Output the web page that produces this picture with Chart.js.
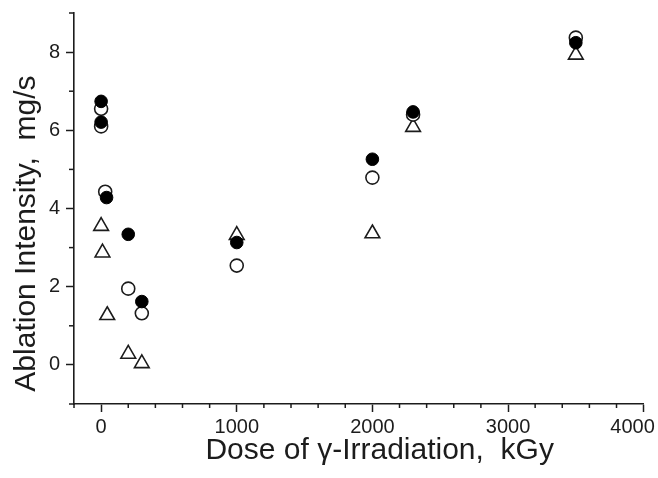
<!DOCTYPE html>
<html><head><meta charset="utf-8">
<script src="https://cdn.jsdelivr.net/npm/chart.js@4.4.1/dist/chart.umd.min.js"></script>
<style>html,body{margin:0;padding:0;overflow:hidden;background:#fff}</style>
</head><body>
<canvas id="c" width="680" height="478" style="width:680px;height:478px;display:block"></canvas>
<script>
// Filled circles
const filledDose = [0, 0, 40, 200, 300, 1000, 2000, 2300, 3500];
const filledVal  = [6.74, 6.21, 4.28, 3.34, 1.62, 3.13, 5.26, 6.47, 8.24];
// Open circles
const openDose = [0, 0, 30, 200, 300, 1000, 2000, 2300, 3500];
const openVal  = [6.55, 6.10, 4.43, 1.95, 1.32, 2.54, 4.79, 6.40, 8.37];
// Open triangles
const triDose = [0, 10, 45, 200, 300, 1000, 2000, 2300, 3500];
const triVal  = [3.55, 2.87, 1.27, 0.28, 0.04, 3.32, 3.36, 6.08, 7.93];

const xTickLabels = [0, 1000, 2000, 3000, 4000];
const yTickLabels = [0, 2, 4, 6, 8];
const xTitle = 'Dose of \u03B3-Irradiation,  kGy';
const yTitle = 'Ablation Intensity,  mg/s';

const pts = (xs, ys) => xs.map((x, i) => ({x: x, y: ys[i]}));
const INK = '#1c1c1c';
const FAMILY = 'Liberation Sans, Arial, sans-serif';

const minorTicks = {
  id: 'minorTicks',
  afterDraw(chart) {
    const ctx = chart.ctx;
    ctx.save();
    ctx.strokeStyle = INK;
    ctx.lineWidth = 1.5;
    const xs = chart.scales.x, ys = chart.scales.y;
    xs.ticks.forEach(t => {
      if (xTickLabels.includes(t.value)) return;
      const p = xs.getPixelForValue(t.value);
      ctx.beginPath(); ctx.moveTo(p, xs.top); ctx.lineTo(p, xs.top + 4); ctx.stroke();
    });
    ys.ticks.forEach(t => {
      if (yTickLabels.includes(t.value)) return;
      const p = ys.getPixelForValue(t.value);
      ctx.beginPath(); ctx.moveTo(ys.right, p); ctx.lineTo(ys.right - 5, p); ctx.stroke();
    });
    ctx.restore();
  }
};

new Chart(document.getElementById('c'), {
  type: 'scatter',
  data: {
    datasets: [
      { label: 'filled', data: pts(filledDose, filledVal), pointStyle: 'circle', pointRadius: 6.3,
        backgroundColor: '#000', borderColor: '#000', borderWidth: 1 },
      { label: 'open', data: pts(openDose, openVal), pointStyle: 'circle', pointRadius: 6.5,
        backgroundColor: '#fff', borderColor: INK, borderWidth: 1.6 },
      { label: 'triangle', data: pts(triDose, triVal), pointStyle: 'triangle', pointRadius: 8.5,
        backgroundColor: '#fff', borderColor: INK, borderWidth: 1.6 }
    ]
  },
  options: {
    responsive: false,
    animation: false,
    layout: { padding: { top: 13, right: 36, left: 0, bottom: 0 } },
    plugins: { legend: { display: false }, tooltip: { enabled: false } },
    scales: {
      x: {
        type: 'linear', min: -200, max: 4000,
        afterFit: s => { s.height = 74; },
        border: { display: true, color: INK, width: 1.6 },
        grid: { drawOnChartArea: false, tickLength: 8, tickWidth: 1.5,
          tickColor: c => xTickLabels.includes(c.tick.value) ? INK : 'rgba(0,0,0,0)' },
        ticks: { stepSize: 200, autoSkip: false, maxRotation: 0, padding: 3, color: INK,
          font: { family: FAMILY, size: 20 },
          callback: v => !xTickLabels.includes(v) ? '' : (v === 4000 ? '4000    ' : String(v)) },
        title: { display: true, text: '     ' + xTitle, align: 'center', color: INK,
          font: { family: FAMILY, size: 30 },
          padding: { top: 0, bottom: 9 } }
      },
      y: {
        type: 'linear', min: -1, max: 9,
        afterFit: s => { s.width = 74; s.paddingTop = 0; s.paddingBottom = 0; },
        border: { display: true, color: INK, width: 1.6 },
        grid: { drawOnChartArea: false, tickLength: 8, tickWidth: 1.5,
          tickColor: c => yTickLabels.includes(c.tick.value) ? INK : 'rgba(0,0,0,0)' },
        ticks: { stepSize: 1, autoSkip: false, padding: 6, color: INK,
          font: { family: FAMILY, size: 20 },
          callback: v => yTickLabels.includes(v) ? String(v) : '' },
        title: { display: true, text: yTitle + '      ', align: 'center', color: INK,
          font: { family: FAMILY, size: 30 },
          padding: { top: 9, bottom: 0 } }
      }
    }
  },
  plugins: [minorTicks]
});
</script>
</body></html>
